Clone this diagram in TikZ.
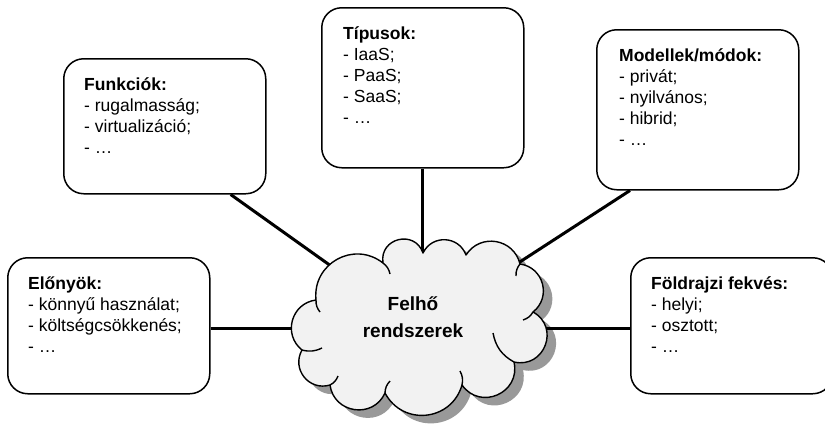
\documentclass[tikz,border=0pt]{standalone}
\usepackage{fontspec}
\setmainfont{Liberation Sans}
\usetikzlibrary{calc}
\pgfdeclarelayer{shadowl}
\pgfdeclarelayer{linel}
\pgfdeclarelayer{cloudl}
\pgfsetlayers{shadowl,linel,cloudl,main}
\definecolor{cloudfill}{gray}{0.95}
\definecolor{shadowgray}{gray}{0.6}
\newcommand\cloudoutline{(302,350) to[bend left=67,looseness=1.23] (316,300) to[bend left=67,looseness=1.23] (383,263) to[bend left=85,looseness=1.57] (423,253) to[bend left=67,looseness=1.23] (466,255) to[bend left=67,looseness=1.23] (520,264) to[bend left=67,looseness=1.23] (533,312) to[bend left=82,looseness=1.5] (514,362) to[bend left=79,looseness=1.43] (462,385) to[bend left=68,looseness=1.25] (385,393) to[bend left=74,looseness=1.33] (330,385) to[bend left=68,looseness=1.25] (302,350) -- cycle}
\begin{document}
\begin{tikzpicture}[x=1pt,y=-1pt,
  box/.style={draw, line width=1.5pt, rounded corners=20pt, minimum width=202pt, inner sep=0pt, anchor=north west},
  boxtext/.style={anchor=north west, inner sep=0pt, align=left, font=\fontsize{17.5}{21}\selectfont},
  conn/.style={line width=3pt},
  cloudline/.style={line width=1.4pt, line join=round}]
\useasboundingbox (0,0) rectangle (825,429);
% boxes
\node[box, minimum height=135pt] (fun) at (63,58) {};
\node[box, minimum height=160pt] (typ) at (321,7) {};
\node[box, minimum height=160pt] (mod) at (596,29) {};
\node[box, minimum height=136pt] (elo) at (7,257) {};
\node[box, minimum height=136pt] (fold) at (630,257) {};
\node[boxtext] (funT) at ($(fun.north west)+(21,15)$) {\rule{0pt}{17pt}\textbf{Funkciók:}\\- rugalmasság;\\- virtualizáció;\\- …};
\node[boxtext] (typT) at ($(typ.north west)+(22,15)$) {\rule{0pt}{17pt}\textbf{Típusok:}\\- IaaS;\\- PaaS;\\- SaaS;\\- …};
\node[boxtext] (modT) at ($(mod.north west)+(23,15)$) {\rule{0pt}{17pt}\textbf{Modellek/módok:}\\- privát;\\- nyilvános;\\- hibrid;\\- …};
\node[boxtext] (eloT) at ($(elo.north west)+(21,15)$) {\rule{0pt}{17pt}\textbf{Előnyök:}\\- könnyű használat;\\- költségcsökkenés;\\- …};
\node[boxtext] (foldT) at ($(fold.north west)+(21,15)$) {\rule{0pt}{17pt}\textbf{Földrajzi fekvés:}\\- helyi;\\- osztott;\\- …};
% cloud
\coordinate (cc) at (418,328);
\node[font=\bfseries\fontsize{19}{27}\selectfont, align=center, inner sep=0pt] (cloud) at (413,317) {Felhő\\rendszerek};
\begin{pgfonlayer}{shadowl}
\fill[white] (0,0) rectangle (825,429);
\fill[shadowgray, shift={(9,8)}] \cloudoutline;
\end{pgfonlayer}
\begin{pgfonlayer}{linel}
\draw[conn] (fun.-46) -- (cc);
\draw[conn] (typ.south) -- (typ.south |- cc);
\draw[conn] (mod.-130) -- (cc);
\draw[conn] (elo.east |- cc) -- (cc);
\draw[conn] (fold.west |- cc) -- (cc);
\end{pgfonlayer}
\begin{pgfonlayer}{cloudl}
\draw[cloudline, fill=cloudfill] \cloudoutline;
\draw[cloudline] (316,300) to[bend right=20] (320,312);
\draw[cloudline] (383,263) to[bend left=20] (390,274);
\draw[cloudline] (520,264) to[bend right=20] (516,276);
\draw[cloudline] (533,312) to[bend left=20] (523,320);
\draw[cloudline] (514,362) to[bend left=25] (493,333);
\draw[cloudline] (462,385) to[bend right=20] (460,371);
\draw[cloudline] (385,393) to[bend left=20] (390,381);
\draw[cloudline] (330,385) to[bend right=20] (338,376);
\draw[cloudline] (302,350) to[bend right=20] (322,348);
\end{pgfonlayer}
\end{tikzpicture}
\end{document}
